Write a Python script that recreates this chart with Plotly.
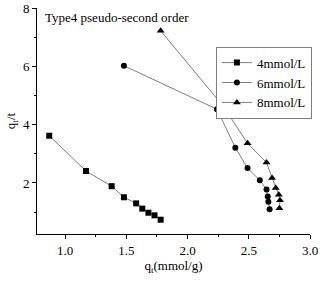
import plotly.graph_objects as go

x4 = [0.87, 1.17, 1.38, 1.48, 1.58, 1.63, 1.68, 1.73, 1.78]
y4 = [3.62, 2.41, 1.89, 1.51, 1.30, 1.12, 0.98, 0.89, 0.74]
x6 = [1.48, 2.24, 2.39, 2.49, 2.59, 2.645, 2.655, 2.66, 2.67]
y6 = [6.02, 4.53, 3.21, 2.51, 2.09, 1.78, 1.54, 1.36, 1.10]
x8 = [1.78, 2.29, 2.49, 2.645, 2.69, 2.72, 2.745, 2.755, 2.75]
y8 = [7.22, 4.64, 3.36, 2.70, 2.17, 1.83, 1.60, 1.41, 1.13]
names = ["4mmol/L", "6mmol/L", "8mmol/L"]
symbols = ["square", "circle", "triangle-up"]
sizes = [6, 6, 7]

FONT = "Liberation Serif"
fig = go.Figure()
for xs, ys, nm, sym, sz in zip([x4, x6, x8], [y4, y6, y8], names, symbols, sizes):
    fig.add_trace(go.Scatter(
        x=xs, y=ys, name=nm, mode="lines+markers",
        line=dict(color="#808080", width=1),
        marker=dict(symbol=sym, color="black", size=sz, line=dict(width=0)),
        cliponaxis=False,
    ))

axis_common = dict(
    showline=True, linecolor="black", linewidth=1, mirror=False, automargin=False,
    ticks="outside", ticklen=4, tickcolor="black", showgrid=False, zeroline=False,
    tickfont=dict(family=FONT, size=13, color="black"),
)
fig.update_layout(
    width=322, height=282,
    margin=dict(l=37, r=12, t=8, b=48),
    paper_bgcolor="white", plot_bgcolor="white",
    font=dict(family=FONT, size=13, color="black"),
    xaxis=dict(range=[0.77, 3.0], dtick=0.5, tick0=0, tickformat=".1f",
               minor=dict(ticks="outside", ticklen=2, dtick=0.25, tickcolor="black"),
               title=dict(text="q<sub>t</sub>(mmol/g)", font=dict(family=FONT, size=13), standoff=4),
               **axis_common),
    yaxis=dict(range=[0.25, 8], dtick=2, tick0=0,
               minor=dict(ticks="outside", ticklen=2, dtick=1, tickcolor="black"),
               title=dict(text="q<sub>t</sub>/t", font=dict(family=FONT, size=13), standoff=4),
               **axis_common),
    legend=dict(x=1.007, y=0.829, xanchor="right", yanchor="top",
                bordercolor="#808080", borderwidth=1, bgcolor="white", itemwidth=30,
                font=dict(family=FONT, size=13), tracegroupgap=0),
    showlegend=True,
    annotations=[dict(text="Type4 pseudo-second order", xref="paper", yref="paper",
                      x=0.022, y=0.96, xanchor="left", yanchor="middle", showarrow=False,
                      font=dict(family=FONT, size=13, color="black"))],
)
fig.write_html("out.html", config={"displayModeBar": False},
               post_script="document.body.style.margin='0';document.body.style.overflow='hidden';")
